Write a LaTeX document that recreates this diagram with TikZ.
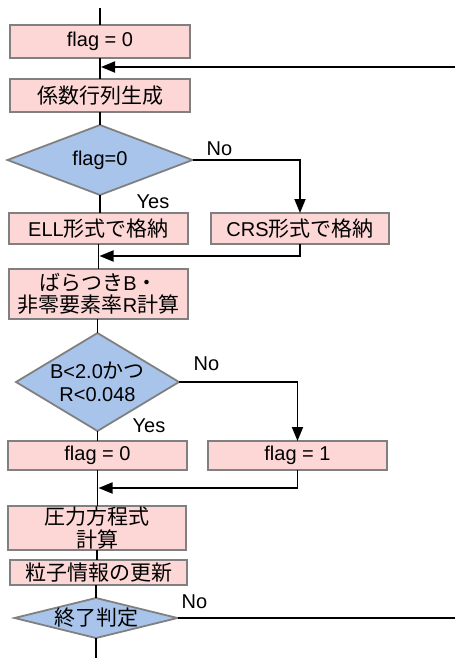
\documentclass[tikz,border=0pt]{standalone}
\usepackage{fontspec}
\setmainfont{Liberation Sans}
\newfontfamily\cjk[Scale=1.05]{Noto Sans CJK JP}
\usetikzlibrary{shapes.geometric,arrows.meta}
\definecolor{boxpink}{HTML}{FDD6D6}
\definecolor{diablue}{HTML}{A9C4EA}
\definecolor{bordergray}{HTML}{808080}
\newcommand{\jtxt}[1]{{\cjk #1}}
\begin{document}
\begin{tikzpicture}[x=1pt,y=-1pt,
  every node/.style={font=\fontsize{20}{22.5}\selectfont},
  procbox/.style={draw=bordergray, line width=1.8pt, fill=boxpink, rectangle, inner sep=0pt, outer sep=0pt, align=center},
  decision/.style={draw=bordergray, line width=1.8pt, fill=diablue, diamond, inner sep=0pt, outer sep=0pt},
  dtext/.style={inner sep=0pt, align=center},
  conn/.style={line width=1.8pt, black},
  arr/.style={conn, -{Triangle[length=14pt,width=11pt]}},
  lbl/.style={inner sep=0pt}
]
\useasboundingbox (0,0) rectangle (455,658);

% nodes
\node[procbox, minimum width=180pt, minimum height=33pt] (b1) at (100,41.5) {flag = 0};
\node[procbox, minimum width=180pt, minimum height=33pt] (b2) at (100,95.5) {\jtxt{係数行列生成}};
\node[decision, minimum width=185pt, minimum height=70pt] (d1) at (100,160) {};
\node[dtext] (t1) at (d1.center) {flag=0};
\node[procbox, minimum width=179pt, minimum height=31pt] (ell) at (98.5,228.5) {ELL\jtxt{形式で格納}};
\node[procbox, minimum width=178pt, minimum height=31pt] (crs) at (300,228.5) {CRS\jtxt{形式で格納}};
\node[procbox, minimum width=179pt, minimum height=50pt] (bB) at (98.5,294) {\jtxt{ばらつき}B\jtxt{・}\\\jtxt{非零要素率}R\jtxt{計算}};
\node[decision, minimum width=163pt, minimum height=98pt] (d2) at (97.5,382) {};
\node[dtext] (t2) at (d2.center) {B<2.0\jtxt{かつ}\\R<0.048};
\node[procbox, minimum width=179pt, minimum height=29pt] (f0) at (97.5,455.5) {flag = 0};
\node[procbox, minimum width=179pt, minimum height=29pt] (f1) at (297.5,455.5) {flag = 1};
\node[procbox, minimum width=178pt, minimum height=44pt] (pe) at (97,528) {\jtxt{圧力方程式}\\\jtxt{計算}};
\node[procbox, minimum width=177pt, minimum height=25pt] (up) at (98.5,572.5) {\jtxt{粒子情報の更新}};
\node[decision, minimum width=163pt, minimum height=40pt] (d3) at (96,618) {};
\node[dtext] (t3) at (d3.center) {\jtxt{終了判定}};

% labels
\node[lbl] (no1) at (219.5,148.5) {No};
\node[lbl] (yes1) at (153,201.5) {Yes};
\node[lbl] (no2) at (206.5,363.5) {No};
\node[lbl] (yes2) at (149,426) {Yes};
\node[lbl] (no3) at (194.5,601.5) {No};

% coordinates
\coordinate (top) at (100,8);
\coordinate (j1) at (101,67);
\coordinate (loopin) at (455,67);
\coordinate (j2) at (99.5,256);
\coordinate (j3) at (98.5,488);
\coordinate (bottom) at (96,658);
\coordinate (loopout) at (455,618);

% connectors
\draw[conn] (top) -- (top |- b1.north);
\draw[conn] (b1.south) -- (b2.north);
\draw[arr] (loopin) -- (j1);
\draw[conn] (b2.south) -- (d1.north);
\draw[conn] (d1.south) -- (d1.south |- ell.north);
\draw[arr] (d1.east) -| (crs.north);
\draw[conn] (ell.south) -- (bB.north);
\draw[arr] (crs.south) |- (j2);
\draw[conn] (bB.south -| d2.north) -- (d2.north);
\draw[conn] (d2.south) -- (d2.south |- f0.north);
\draw[arr] (d2.east) -| (f1.north);
\draw[arr] (f1.south) |- (j3);
\draw[conn] (f0.south) -- (f0.south |- pe.north);
\draw[conn] (pe.south) -- (pe.south |- up.north);
\draw[conn] (up.south -| d3.north) -- (d3.north);
\draw[conn] (d3.south) -- (bottom);
\draw[conn] (d3.east) -- (loopout);
\end{tikzpicture}
\end{document}
